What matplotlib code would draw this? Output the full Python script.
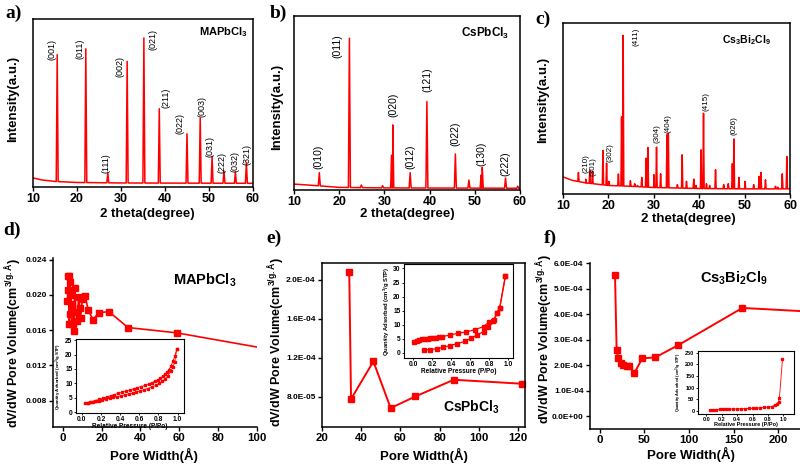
import numpy as np
import matplotlib
matplotlib.use('Agg')
import matplotlib.pyplot as plt
from matplotlib.ticker import FuncFormatter, MultipleLocator

plt.rcParams['font.family'] = ['Liberation Sans', 'DejaVu Sans']
plt.rcParams['font.weight'] = 'bold'
plt.rcParams['axes.labelweight'] = 'bold'
plt.rcParams['mathtext.fontset'] = 'custom'
plt.rcParams['mathtext.rm'] = 'Liberation Sans:bold'
plt.rcParams['mathtext.bf'] = 'Liberation Sans:bold'
plt.rcParams['mathtext.it'] = 'Liberation Sans:bold'

RED = '#ff0000'

# ---- XRD data (peak positions / relative heights) ----
a_peaks = [15.5, 22.0, 27.0, 31.4, 35.2, 38.7, 45.0, 48.0, 50.7, 53.4, 56.0, 58.5]
a_heights = [0.788, 0.823, 0.083, 0.748, 0.887, 0.466, 0.317, 0.411, 0.183, 0.095, 0.091, 0.147]
a_base_x = [10, 12, 15, 20, 30, 60]
a_base_y = [0.054, 0.042, 0.033, 0.027, 0.024, 0.022]
a_hkl = ['(001)', '(011)', '(111)', '(002)', '(021)', '(211)', '(022)', '(003)', '(031)', '(222)', '(032)', '(321)']

b_peaks = [15.6, 22.26, 24.9, 29.6, 31.6, 31.86, 35.7, 39.4, 45.7, 48.7, 51.4, 51.65, 56.8, 59.5]
b_heights = [0.10, 0.872, 0.029, 0.025, 0.20, 0.374, 0.10, 0.508, 0.207, 0.057, 0.086, 0.13, 0.069, 0.022]
b_base_x = [10, 15, 20, 30, 60]
b_base_y = [0.034, 0.025, 0.015, 0.012, 0.010]
b_hkl = ['(010)', '(011)', '(020)', '(012)', '(121)', '(022)', '(130)', '(222)']

c_peaks = [13.4, 15.0, 15.9, 16.5, 18.8, 19.6, 20.1, 22.2, 22.9, 23.25, 24.85, 25.8, 26.4,
           27.35, 28.3, 28.7, 30.0, 30.6, 31.5, 32.9, 33.2, 35.2, 36.25, 37.2, 38.8, 39.3,
           40.4, 40.95, 41.6, 42.3, 43.6, 45.4, 46.4, 47.3, 47.65, 48.75, 50.1, 52.0, 53.2,
           53.6, 54.6, 56.8, 57.3, 58.3, 59.3]
c_heights = [0.126, 0.087, 0.138, 0.132, 0.254, 0.181, 0.074, 0.117, 0.452, 0.928, 0.078, 0.06, 0.05,
             0.097, 0.21, 0.272, 0.113, 0.274, 0.118, 0.346, 0.355, 0.055, 0.229, 0.074, 0.087, 0.05,
             0.258, 0.472, 0.06, 0.05, 0.142, 0.055, 0.06, 0.177, 0.322, 0.097, 0.074, 0.055, 0.103,
             0.126, 0.083, 0.045, 0.04, 0.118, 0.219]
c_base_x = [10, 12, 15, 20, 25, 30, 40, 50, 60]
c_base_y = [0.10, 0.08, 0.065, 0.05, 0.045, 0.038, 0.032, 0.03, 0.03]
c_hkl = ['(210)', '(301)', '(302)', '(411)', '(304)', '(404)', '(415)', '(026)']

# ---- pore size distributions ----
d_width = [2.4, 2.6, 2.8, 3.1, 3.4, 3.7, 4.0, 4.3, 4.6, 5.0, 5.3, 5.7, 6.2, 6.7, 7.4, 8.2,
           8.8, 9.2, 10.1, 11.7, 13.0, 15.6, 18.7, 23.8, 33.6, 58.6, 120]
d_vol = [0.0193, 0.0206, 0.0221, 0.0221, 0.0167, 0.0215, 0.0178, 0.0200, 0.0167, 0.0190,
         0.0167, 0.0159, 0.0208, 0.0181, 0.0170, 0.0198, 0.0185, 0.0174, 0.0195, 0.0199,
         0.0183, 0.0172, 0.0180, 0.0181, 0.0163, 0.0157, 0.0133]

e_width = [33.9, 34.8, 46.2, 55.0, 67.6, 87.2, 122.2]
e_vol = [2.075e-4, 7.76e-5, 1.162e-4, 6.84e-5, 8.03e-5, 9.74e-5, 9.33e-5]

f_width = [16.9, 18.7, 20.6, 23.2, 26.2, 30.0, 33.0, 38.6, 47.6, 61.8, 87.3, 160.0, 240.0]
f_vol = [5.54e-4, 2.60e-4, 2.27e-4, 2.10e-4, 2.01e-4, 1.97e-4, 1.95e-4, 1.69e-4,
         2.27e-4, 2.30e-4, 2.77e-4, 4.24e-4, 4.09e-4]

# ---- isotherms (insets) ----
d_ads_p = [0.03, 0.06, 0.09, 0.12, 0.15, 0.18, 0.21, 0.25, 0.29, 0.33, 0.37, 0.41, 0.45, 0.49,
           0.53, 0.57, 0.61, 0.65, 0.69, 0.73, 0.77, 0.81, 0.84, 0.87, 0.90, 0.93, 0.95, 0.97, 0.99]
d_ads_q = [3.0, 3.2, 3.4, 3.6, 3.8, 4.0, 4.2, 4.5, 4.8, 5.1, 5.4, 5.7, 6.0, 6.3,
           6.6, 7.0, 7.4, 7.8, 8.2, 8.7, 9.3, 10.0, 10.7, 11.6, 12.7, 14.2, 15.6, 17.5, 21.8]
d_des_p = [0.99, 0.97, 0.95, 0.93, 0.91, 0.89, 0.87, 0.85, 0.82, 0.79, 0.76, 0.73, 0.70, 0.66,
           0.62, 0.58, 0.54, 0.50, 0.46, 0.42, 0.38, 0.34, 0.30, 0.26, 0.22, 0.18, 0.14, 0.10, 0.06]
d_des_q = [21.8, 19.5, 17.6, 16.0, 14.8, 13.9, 13.2, 12.6, 11.8, 11.2, 10.7, 10.2, 9.8, 9.3,
           8.9, 8.5, 8.1, 7.7, 7.3, 6.9, 6.5, 6.1, 5.7, 5.3, 4.8, 4.4, 4.0, 3.6, 3.2]

e_ads_p = [0.115, 0.18, 0.245, 0.315, 0.385, 0.46, 0.54, 0.61, 0.67, 0.74, 0.79, 0.84, 0.88, 0.91, 0.97]
e_ads_q = [1.0, 1.1, 1.4, 1.9, 2.5, 3.2, 4.0, 5.1, 6.3, 7.5, 9.2, 11.3, 14.0, 16.0, 27.3]
e_des_p = [0.97, 0.91, 0.88, 0.85, 0.80, 0.74, 0.65, 0.56, 0.47, 0.39, 0.30, 0.27, 0.24, 0.21,
           0.18, 0.15, 0.12, 0.09, 0.06, 0.035, 0.01]
e_des_q = [27.3, 16.0, 14.2, 11.5, 11.0, 9.3, 8.2, 7.4, 6.9, 6.3, 5.7, 5.5, 5.4, 5.2,
           5.1, 5.0, 4.9, 4.8, 4.4, 4.2, 3.7]

f_iso_p = [0.05, 0.09, 0.13, 0.17, 0.21, 0.25, 0.30, 0.35, 0.40, 0.45, 0.50, 0.55,
           0.60, 0.65, 0.70, 0.75, 0.80, 0.85, 0.89, 0.92, 0.94, 0.95, 0.99]
f_iso_q = [5, 5.5, 6, 6.5, 7, 7.5, 8, 8.5, 9, 9.5, 10, 11, 11.5, 12.5, 13.5, 15,
           16.5, 19, 25, 32, 40, 55, 222]

W, H = 800, 465
fig = plt.figure(figsize=(W / 100, H / 100), dpi=100)


def px_axes(l, t, r, b):
    return fig.add_axes([l / W, 1 - b / H, (r - l) / W, (b - t) / H])


def place_labels(ax, xlab_xy, ylab_xy):
    # coordinates are label centres in axes fractions
    ax.xaxis.set_label_coords(*xlab_xy)
    ax.yaxis.set_label_coords(*ylab_xy)
    ax.xaxis.label.set_va('center')
    ax.yaxis.label.set_va('center')


def xrd_trace(peaks, heights, w, bx, by):
    xs = list(bx)
    ys = list(by)
    for p, h in zip(peaks, heights):
        xs += [p - w, p, p + w]
        ys += [np.interp(p - w, bx, by), h, np.interp(p + w, bx, by)]
    order = np.argsort(xs, kind='stable')
    return np.array(xs)[order], np.array(ys)[order]


def style_xrd(ax, xlab_xy, ylab_xy):
    ax.set_xlim(10, 60)
    ax.set_ylim(0, 1)
    ax.set_xticks([10, 20, 30, 40, 50, 60])
    ax.set_yticks([])
    ax.tick_params(axis='x', direction='out', length=3, width=1, labelsize=9, pad=1.5)
    for s in ax.spines.values():
        s.set_linewidth(1.1)
    ax.set_xlabel('2 theta(degree)', fontsize=9.5)
    ax.set_ylabel('Intensity(a.u.)', fontsize=9.5)
    place_labels(ax, xlab_xy, ylab_xy)


# ---- a ----
ax = px_axes(33, 19, 253, 187)
x, y = xrd_trace(a_peaks, a_heights, 0.22, a_base_x, a_base_y)
ax.plot(x, y, color=RED, lw=1.1)
style_xrd(ax, (0.52, -0.16), (-0.091, 0.524))
a_lab = [(14.4, 0.82), (20.6, 0.82), (26.5, 0.143), (29.8, 0.72), (37.3, 0.877), (40.3, 0.53),
         (43.3, 0.377), (48.5, 0.48), (50.3, 0.242), (53.0, 0.147), (55.9, 0.153), (58.6, 0.192)]
for t, (lx, ly) in zip(a_hkl, a_lab):
    ax.text(lx, ly, t, rotation=90, ha='center', va='center', fontsize=6.5, fontweight='normal')
ax.text(0.864, 0.923, r'MAPbCl$_3$', transform=ax.transAxes, ha='center', va='center', fontsize=8)

# ---- b ----
ax = px_axes(294, 16, 520, 190)
x, y = xrd_trace(b_peaks, b_heights, 0.22, b_base_x, b_base_y)
ax.plot(x, y, color=RED, lw=1.1)
style_xrd(ax, (0.5, -0.14), (-0.075, 0.477))
b_lab = [(15.5, 0.19), (19.7, 0.824), (31.9, 0.49), (35.8, 0.19), (39.4, 0.635), (45.6, 0.326),
         (51.5, 0.21), (56.8, 0.153)]
for t, (lx, ly) in zip(b_hkl, b_lab):
    ax.text(lx, ly, t, rotation=90, ha='center', va='center', fontsize=7.5, fontweight='normal')
ax.text(0.845, 0.902, r'CsPbCl$_3$', transform=ax.transAxes, ha='center', va='center', fontsize=8.5)

# ---- c ----
ax = px_axes(563, 23, 790, 194)
x, y = xrd_trace(c_peaks, c_heights, 0.14, c_base_x, c_base_y)
ax.plot(x, y, color=RED, lw=1.1)
style_xrd(ax, (0.55, -0.145), (-0.088, 0.55))
c_lab = [(15.0, 0.18), (16.5, 0.16), (20.3, 0.24), (26.0, 0.918), (30.8, 0.355), (33.1, 0.414),
         (41.6, 0.54), (47.65, 0.40)]
for t, (lx, ly) in zip(c_hkl, c_lab):
    ax.text(lx, ly, t, rotation=90, ha='center', va='center', fontsize=5.8, fontweight='normal')
ax.text(0.81, 0.90, r'Cs$_3$Bi$_2$Cl$_9$', transform=ax.transAxes, ha='center', va='center', fontsize=7.5)


def style_pore(ax, xlab_xy, ylab_xy, box=False):
    ax.tick_params(axis='both', direction='out', length=3, width=1, pad=1.5)
    ax.tick_params(axis='x', labelsize=8.2)
    ax.tick_params(axis='y', labelsize=6)
    for s in ax.spines.values():
        s.set_linewidth(1.1)
    if not box:
        ax.spines['top'].set_visible(False)
        ax.spines['right'].set_visible(False)
    ax.set_xlabel('Pore Width(Å)', fontsize=9.5)
    ax.set_ylabel('dV/dW Pore Volume(cm$^{3/g.Å}$)', fontsize=9)
    place_labels(ax, xlab_xy, ylab_xy)


def style_inset(ax, xlim, ylim, ystep, ylab_fs, xlab_fs, tick_fs):
    ax.set_xlim(*xlim)
    ax.set_ylim(*ylim)
    ax.set_xticks([0, 0.2, 0.4, 0.6, 0.8, 1.0])
    ax.xaxis.set_major_formatter(FuncFormatter(lambda v, p: f'{v:.1f}'))
    ax.yaxis.set_major_locator(MultipleLocator(ystep))
    ax.tick_params(axis='both', direction='out', length=1.5, width=0.6, labelsize=tick_fs, pad=1)
    for s in ax.spines.values():
        s.set_linewidth(0.8)
    ax.set_xlabel('Relative Pressure (P/Po)', fontsize=xlab_fs, labelpad=0)
    ax.set_ylabel('Quantity Adsorbed (cm$^3$/g STP)', fontsize=ylab_fs, labelpad=1)


# ---- d ----
ax = px_axes(53, 258, 257, 427)
ax.plot(d_width, d_vol, color=RED, lw=1.2, marker='s', ms=3.8, mec=RED, mfc=RED)
ax.set_xlim(-5, 100)
ax.set_ylim(0.005, 0.0242)
ax.set_xticks([0, 20, 40, 60, 80, 100])
ax.set_yticks([0.008, 0.012, 0.016, 0.020, 0.024])
ax.yaxis.set_major_formatter(FuncFormatter(lambda v, p: f'{v:.3f}'))
style_pore(ax, (0.495, -0.168), (-0.205, 0.497))
ax.text(0.745, 0.87, r'MAPbCl$_3$', transform=ax.transAxes, ha='center', va='center', fontsize=10.5)

ins = px_axes(76, 339, 184, 413)
ins.plot(d_ads_p, d_ads_q, color=RED, lw=0.6, marker='s', ms=1.6)
ins.plot(d_des_p, d_des_q, color=RED, lw=0.6, marker='s', ms=1.6)
style_inset(ins, (-0.06, 1.066), (-0.3, 25.4), 5, 3.2, 4.7, 4.8)

# ---- e ----
ax = px_axes(322, 263, 525, 427)
ax.plot(e_width, e_vol, color=RED, lw=1.4, marker='s', ms=4.6, mec=RED, mfc=RED, clip_on=False)
ax.set_xlim(20, 123.5)
ax.set_ylim(4.9e-5, 2.17e-4)
ax.set_xticks([20, 40, 60, 80, 100, 120])
ax.set_yticks([8e-5, 1.2e-4, 1.6e-4, 2.0e-4])
ax.yaxis.set_major_formatter(FuncFormatter(lambda v, p: f'{v:.1E}'))
style_pore(ax, (0.5, -0.172), (-0.235, 0.52), box=True)
ax.text(0.734, 0.122, r'CsPbCl$_3$', transform=ax.transAxes, ha='center', va='center', fontsize=10)

ins = px_axes(404, 264, 513, 358)
ins.plot(e_ads_p, e_ads_q, color=RED, lw=0.9, marker='s', ms=2.6)
ins.plot(e_des_p, e_des_q, color=RED, lw=0.9, marker='s', ms=2.6)
style_inset(ins, (-0.098, 1.05), (-1.9, 31.6), 5, 4.2, 4.7, 4.8)

# ---- f ----
ax = px_axes(590, 263, 800, 429)
ax.plot(f_width, f_vol, color=RED, lw=1.4, marker='s', ms=4.6, mec=RED, mfc=RED)
ax.set_xlim(-11.2, 224.7)
ax.set_ylim(-0.5e-4, 6.0e-4)
ax.set_xticks([0, 50, 100, 150, 200])
ax.set_yticks([0, 1e-4, 2e-4, 3e-4, 4e-4, 5e-4, 6e-4])
ax.yaxis.set_major_formatter(FuncFormatter(lambda v, p: f'{v:.1E}'))
style_pore(ax, (0.48, -0.155), (-0.228, 0.54))
ax.text(0.686, 0.91, r'Cs$_3$Bi$_2$Cl$_9$', transform=ax.transAxes, ha='center', va='center', fontsize=10.5)

ins = px_axes(698, 351, 794, 414)
ins.plot(f_iso_p, f_iso_q, color=RED, lw=0.6, marker='s', ms=1.6)
style_inset(ins, (-0.11, 1.14), (-13, 257), 50, 2.8, 4.0, 4.0)

# ---- panel letters ----
for lab, px, py in [('a)', 5, 5), ('b)', 270, 5), ('c)', 535, 11),
                    ('d)', 3, 222), ('e)', 266, 230), ('f)', 544, 230)]:
    fig.text(px / W, 1 - py / H, lab, ha='left', va='top', fontsize=14,
             family='Liberation Serif', fontweight='bold')

fig.savefig('out.png', dpi=100)
